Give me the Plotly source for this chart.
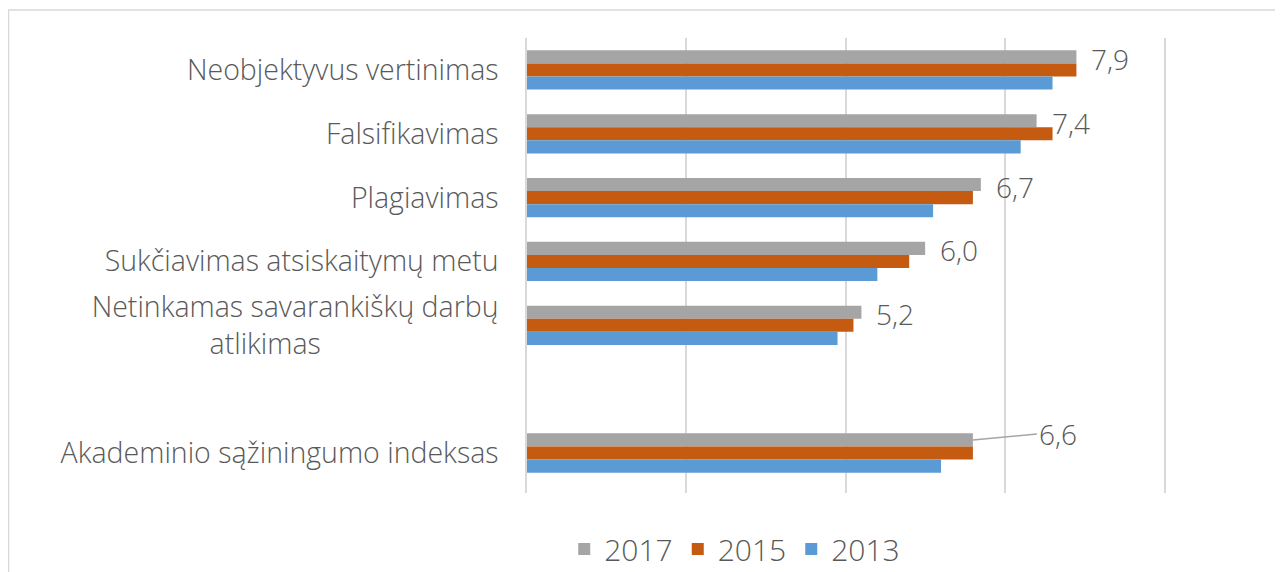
import plotly.graph_objects as go

categories = [
    'Neobjektyvus vertinimas',
    'Falsifikavimas',
    'Plagiavimas',
    'Sukčiavimas atsiskaitymų metu',
    'Netinkamas savarankiškų darbų<br>atlikimas' + '\u00a0' * 24,
    ' ',
    'Akademinio sąžiningumo indeksas',
]
v2017 = [7.9, 7.4, 6.7, 6.0, 5.2, None, 6.6]
v2015 = [7.9, 7.6, 6.6, 5.8, 5.1, None, 6.6]
v2013 = [7.6, 7.2, 6.1, 5.4, 4.9, None, 6.2]

FONT = 'Open Sans'
TXT = '#595959'

fig = go.Figure()
for name, vals, col in [('2017', v2017, '#A5A5A5'),
                        ('2015', v2015, '#C55A11'),
                        ('2013', v2013, '#5B9BD5')]:
    fig.add_trace(go.Bar(
        y=categories, x=vals, name=name, orientation='h',
        marker=dict(color=col, line=dict(width=0)),
        hoverinfo='skip',
    ))

# data labels for 2017 only
for cat, v in zip(categories, v2017):
    if v is None:
        continue
    if cat.startswith('Akademinio'):
        fig.add_annotation(
            x=v, y=cat, text=f'{v:.1f}'.replace('.', ','),
            showarrow=True, arrowhead=0, arrowwidth=1.5, arrowcolor='#A5A5A5',
            ax=64, ay=-6, xanchor='left', yanchor='middle', yshift=13,
            standoff=0, font=dict(family=FONT, size=28, color=TXT, weight=300),
        )
    else:
        fig.add_annotation(
            x=v, y=cat, text=f'{v:.1f}'.replace('.', ','),
            showarrow=False, xanchor='left', yanchor='middle',
            xshift=13, yshift=11,
            font=dict(family=FONT, size=28, color=TXT, weight=300),
        )

# outer chart border
fig.add_shape(type='rect', xref='paper', yref='paper',
              x0=-0.814, x1=1.3, y0=-0.3, y1=1.0615,
              line=dict(color='#D9D9D9', width=1.5), layer='below')

fig.update_layout(
    width=1275, height=564,
    margin=dict(l=519, r=119, t=30, b=79, autoexpand=False),
    plot_bgcolor='white', paper_bgcolor='white',
    barmode='group', bargap=0.385, bargroupgap=0,
    separators=', ',
    font=dict(family=FONT, color=TXT, weight=300),
    showlegend=True,
    legend=dict(orientation='h', xref='container', yref='container',
                x=0.570, y=0.041, xanchor='center', yanchor='middle',
                font=dict(family=FONT, size=30, color=TXT, weight=300),
                itemwidth=30, traceorder='normal'),
    xaxis=dict(range=[1, 9], tick0=1, dtick=2, showticklabels=False,
               showgrid=True, gridcolor='#D9D9D9', gridwidth=1.5,
               zeroline=False, showline=False, fixedrange=True),
    yaxis=dict(autorange='reversed', categoryorder='array', categoryarray=categories,
               tickfont=dict(family=FONT, size=28.5, color=TXT, weight=300),
               ticks='', ticklabelstandoff=21,
               showline=True, mirror=True, linecolor='#D9D9D9', linewidth=1.5,
               showgrid=False, zeroline=False, fixedrange=True),
)

fig.write_html('out.html')
